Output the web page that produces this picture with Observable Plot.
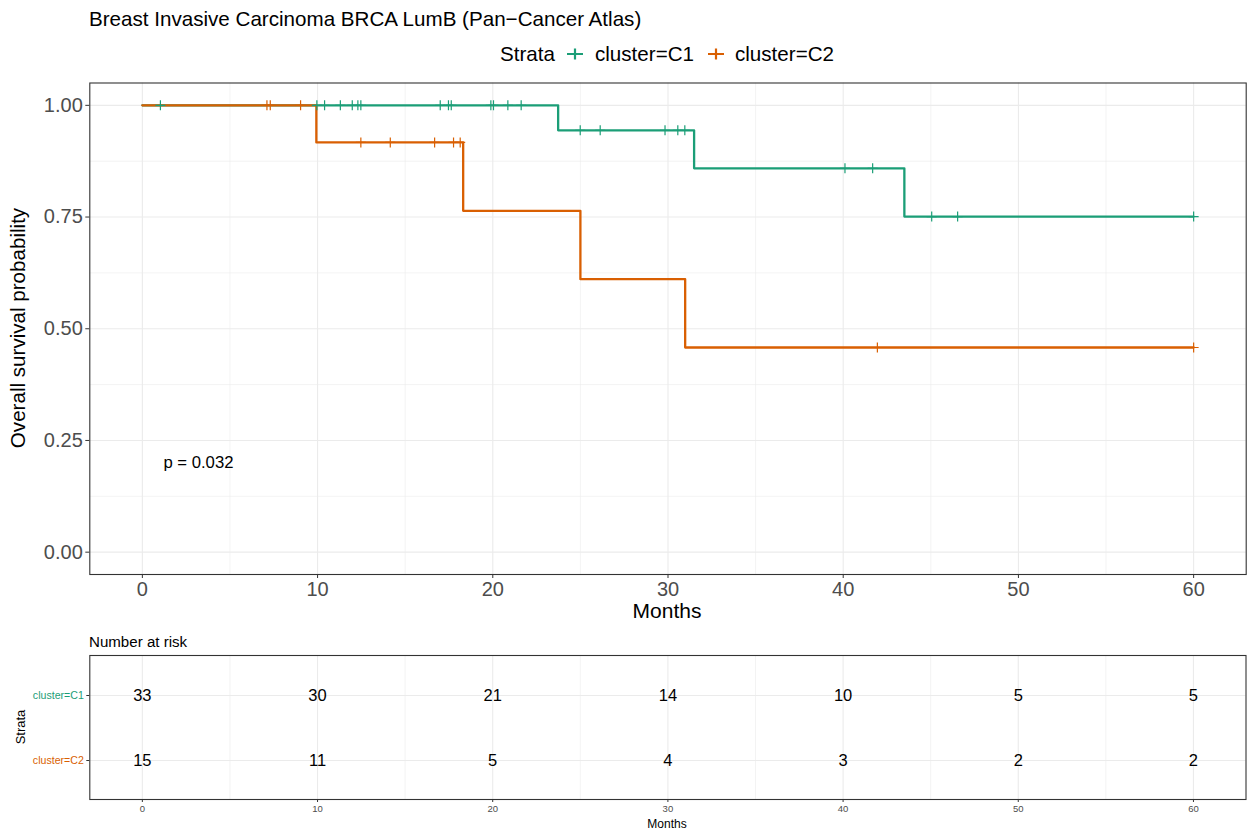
<!DOCTYPE html>
<html><head><meta charset="utf-8">
<script src="https://cdn.jsdelivr.net/npm/d3@7"></script>
<script src="https://cdn.jsdelivr.net/npm/@observablehq/plot@0.6"></script>
<style>
body{margin:0;background:#fff;font-family:"Liberation Sans",Arial,Helvetica,sans-serif;}
#root{position:relative;width:1249px;height:834px;overflow:hidden;}
.abs{position:absolute;white-space:nowrap;line-height:1;color:#000;}
svg{position:absolute;left:0;}
</style></head><body><div id="root"></div>
<script>
// ---- data ----
const strata = ["cluster=C1", "cluster=C2"];
const colors = ["#1B9E77", "#D95F02"];
const c1Times = [0, 23.73, 31.49, 43.49, 60];
const c1Surv  = [1, 0.944, 0.859, 0.751, 0.751];
const c2Times = [0, 9.93, 18.31, 25.0, 30.98, 60];
const c2Surv  = [1, 0.917, 0.764, 0.611, 0.458, 0.458];
const c1Censor = [1.03, 9.96, 10.4, 11.3, 11.98, 12.3, 12.47, 17.0, 17.47, 17.63, 19.89, 20.04, 20.86, 21.62, 24.99, 26.13, 29.83, 30.56, 30.96, 40.1, 41.68, 45.05, 46.53, 60];
const c2Censor = [7.11, 7.30, 9.03, 12.47, 14.15, 16.68, 17.76, 18.14, 41.95, 60];
const riskTimes = [0, 10, 20, 30, 40, 50, 60];
const riskC1 = [33, 30, 21, 14, 10, 5, 5];
const riskC2 = [15, 11, 5, 4, 3, 2, 2];
const xMajor = [0, 10, 20, 30, 40, 50, 60];
const xMinor = [5, 15, 25, 35, 45, 55];
const yMajor = [0, 0.25, 0.5, 0.75, 1];
const yMinor = [0.125, 0.375, 0.625, 0.875];
const pval = [{x: 1.2, y: 0.2, label: "p = 0.032"}];
const title = "Breast Invasive Carcinoma BRCA LumB (Pan\u2212Cancer Atlas)";

// ---- build tables ----
const curves = [
  ...c1Times.map((t, i) => ({strata: strata[0], t, s: c1Surv[i]})),
  ...c2Times.map((t, i) => ({strata: strata[1], t, s: c2Surv[i]}))
];
function survAt(times, surv, t) { let v = surv[0]; for (let i = 0; i < times.length; i++) if (times[i] <= t) v = surv[i]; return v; }
const censors = [
  ...c1Censor.map(t => ({strata: strata[0], t, s: survAt(c1Times, c1Surv, t)})),
  ...c2Censor.map(t => ({strata: strata[1], t, s: survAt(c2Times, c2Surv, t)}))
];
const riskData = [
  ...riskTimes.map((t, j) => ({strata: strata[0], t, n: riskC1[j]})),
  ...riskTimes.map((t, j) => ({strata: strata[1], t, n: riskC2[j]}))
];
const plusSym = {draw(ctx, size) { const r = Math.sqrt(size / Math.PI); ctx.moveTo(0, -r); ctx.lineTo(0, r); ctx.moveTo(-r, 0); ctx.lineTo(r, 0); }};
const font = '"Liberation Sans", Arial, Helvetica, sans-serif';
const root = document.getElementById("root");

function addText(txt, css) { const d = document.createElement("div"); d.className = "abs"; d.textContent = txt; Object.assign(d.style, css); root.appendChild(d); return d; }

// ---- main plot ----
const main = Plot.plot({
  width: 1249, height: 555, marginLeft: 89.3, marginRight: 3.3, marginTop: 10.5, marginBottom: 53,
  style: {fontFamily: font, background: "transparent"},
  x: {domain: [-3, 63]},
  y: {domain: [-0.05, 1.05]},
  color: {domain: strata, range: colors},
  marks: [
    Plot.ruleX(xMinor, {stroke: "#ebebeb", strokeWidth: 0.6}),
    Plot.ruleY(yMinor, {stroke: "#ebebeb", strokeWidth: 0.6}),
    Plot.ruleX(xMajor, {stroke: "#ebebeb", strokeWidth: 1.1}),
    Plot.ruleY(yMajor, {stroke: "#ebebeb", strokeWidth: 1.1}),
    Plot.line(curves, {x: "t", y: "s", z: "strata", stroke: "strata", curve: "step-after", strokeWidth: 2.3}),
    Plot.dot(censors, {x: "t", y: "s", stroke: "strata", symbol: plusSym, r: 5, strokeWidth: 1.2, fill: "none"}),
    Plot.text(pval, {x: "x", y: "y", text: "label", textAnchor: "start", fontSize: 16.7, fill: "black"}),
    Plot.frame({stroke: "#333", strokeWidth: 1.1}),
    Plot.axisX(xMajor, {tickSize: 4, tickPadding: 3, fontSize: 20, stroke: "#333", fill: "#4d4d4d", label: null}),
    Plot.axisY(yMajor, {tickSize: 4, tickPadding: 3, fontSize: 20, stroke: "#333", fill: "#4d4d4d", label: null, tickFormat: d3.format(".2f")})
  ]
});
main.style.top = "72px";
root.appendChild(main);

// ---- risk table ----
const risk = Plot.plot({
  width: 1249, height: 189, marginLeft: 89.3, marginRight: 3.5, marginTop: 10, marginBottom: 35,
  style: {fontFamily: font, background: "transparent"},
  x: {domain: [-3, 63]},
  y: {type: "point", domain: strata, padding: 0.6},
  color: {domain: strata, range: colors},
  marks: [
    Plot.ruleX(xMinor, {stroke: "#ebebeb", strokeWidth: 0.6}),
    Plot.ruleX(xMajor, {stroke: "#ebebeb", strokeWidth: 1.1}),
    Plot.ruleY(strata, {y: d => d, stroke: "#ebebeb", strokeWidth: 1.1}),
    Plot.text(riskData, {x: "t", y: "strata", text: "n", fontSize: 16.5, fill: "black"}),
    Plot.frame({stroke: "#333", strokeWidth: 1.1}),
    Plot.axisX(xMajor, {tickSize: 3, tickPadding: 3, fontSize: 9.5, stroke: "#333", fill: "#4d4d4d", label: null}),
    Plot.axisY(strata, {tickSize: 3, tickPadding: 3, fontSize: 10.6, stroke: "#333", fill: d => d, label: null})
  ]
});
risk.style.top = "645px";
root.appendChild(risk);

// ---- HTML texts ----
addText(title, {left: "89px", top: "9px", fontSize: "20.6px"});
addText("Strata", {left: "500px", top: "44px", fontSize: "20.6px"});
addText(strata[0], {left: "595px", top: "44px", fontSize: "20.6px"});
addText(strata[1], {left: "735px", top: "44px", fontSize: "20.6px"});
[[566, colors[0]], [707, colors[1]]].forEach(([x, c]) => {
  const s = document.createElementNS("http://www.w3.org/2000/svg", "svg");
  s.setAttribute("width", 18); s.setAttribute("height", 18);
  s.style.left = x + "px"; s.style.top = "45px";
  s.innerHTML = `<path d="M9,3.5V14.5M1,9H17" stroke="${c}" stroke-width="2.2"/>`;
  root.appendChild(s);
});
addText("Months", {left: "667px", top: "610px", fontSize: "21px", transform: "translate(-50%,-50%)"});
addText("Overall survival probability", {left: "18px", top: "328px", fontSize: "20.6px", transform: "translate(-50%,-50%) rotate(-90deg)"});
addText("Number at risk", {left: "89px", top: "634px", fontSize: "15.1px"});
addText("Strata", {left: "20px", top: "727px", fontSize: "13px", transform: "translate(-50%,-50%) rotate(-90deg)"});
addText("Months", {left: "667px", top: "824px", fontSize: "12px", transform: "translate(-50%,-50%)"});
</script></body></html>
